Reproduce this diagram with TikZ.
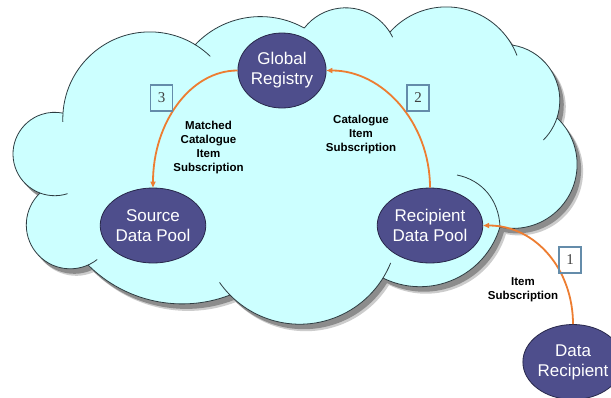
\documentclass[tikz,border=0pt]{standalone}
\usepackage{fontspec}
\setmainfont{Liberation Sans}
\newfontfamily\numfont{Liberation Serif}
\usetikzlibrary{shapes.geometric,arrows.meta}
\definecolor{cloudfill}{RGB}{204,255,255}
\definecolor{cloudline}{RGB}{45,60,65}
\definecolor{nodefill}{RGB}{78,78,140}
\definecolor{nodeline}{RGB}{40,40,75}
\definecolor{arrowc}{RGB}{237,125,49}
\definecolor{boxline}{RGB}{100,140,170}
\newcommand{\mycloud}[1]{\path[#1]
 ([shift={(183.9:87)}]149.8,118.9) arc[start angle=183.9,end angle=301.3,radius=87]
 -- ([shift={(223.1:89.6)}]260.4,106.2) arc[start angle=223.1,end angle=299.1,radius=89.6]
 -- ([shift={(217.7:52.3)}]345.6,60.1) arc[start angle=217.7,end angle=327.7,radius=52.3]
 -- ([shift={(221.9:75.7)}]446.3,82.6) arc[start angle=221.9,end angle=330.2,radius=75.7]
 -- ([shift={(278.4:56)}]503.8,100.4) arc[start angle=278.4,end angle=378.3,radius=56]
 -- ([shift={(313.4:64)}]513.1,164.4) arc[start angle=313.4,end angle=461.8,radius=64]
 -- ([shift={(16.5:83.4)}]420,203.3) arc[start angle=16.5,end angle=116.3,radius=83.4]
 -- ([shift={(31.9:98)}]299.8,226.2) arc[start angle=31.9,end angle=135.4,radius=98]
 -- ([shift={(69:133.3)}]182.2,170.6) arc[start angle=69,end angle=134.9,radius=133.3]
 -- ([shift={(66.1:43.9)}]70.2,224.9) arc[start angle=66.1,end angle=226.6,radius=43.9]
 -- ([shift={(110.7:41.7)}]54.7,154) arc[start angle=110.7,end angle=281.4,radius=41.7]
 -- cycle;}
\begin{document}
\begin{tikzpicture}[x=1pt,y=-1pt,
  pool/.style={ellipse, draw=nodeline, line width=0.8pt, fill=nodefill,
    minimum width=88pt, minimum height=75pt, inner sep=0pt, align=center,
    text=white, font=\fontsize{17}{20}\selectfont},
  numbox/.style={draw=boxline, line width=1.2pt, minimum width=22pt,
    minimum height=26pt, inner sep=0pt, font=\numfont\fontsize{15}{15}\selectfont,
    text=black!75},
  lbl/.style={align=center, font=\bfseries\fontsize{11.5}{13.8}\selectfont},
  flow/.style={draw=arrowc, line width=1.8pt, -{Triangle[length=6pt,width=5pt]}},
  rim/.style={draw=cloudline, line width=0.8pt},
]
\fill[white] (0,0) rectangle (611,397);
\useasboundingbox (0,0) rectangle (611,397);
% cloud shadow and cloud body
\mycloud{fill=black!20, shift={(6,7)}}
\mycloud{fill=black!45, shift={(4,5)}}
\mycloud{fill=cloudfill}
% cloud bump outlines (extended arcs give the inner tails)
\draw[rim] ([shift={(178:87)}]149.8,118.9) arc[start angle=178,end angle=314,radius=87];
\draw[rim] ([shift={(223.1:89.6)}]260.4,106.2) arc[start angle=223.1,end angle=299.1,radius=89.6];
\draw[rim] ([shift={(217.7:52.3)}]345.6,60.1) arc[start angle=217.7,end angle=334,radius=52.3];
\draw[rim] ([shift={(221.9:75.7)}]446.3,82.6) arc[start angle=221.9,end angle=339,radius=75.7];
\draw[rim] ([shift={(278.4:56)}]503.8,100.4) arc[start angle=278.4,end angle=405,radius=56];
\draw[rim] ([shift={(313.4:64)}]513.1,164.4) arc[start angle=313.4,end angle=461.8,radius=64];
\draw[rim] ([shift={(16.5:83.4)}]420,203.3) arc[start angle=16.5,end angle=116.3,radius=83.4];
\draw[rim] ([shift={(22:98)}]299.8,226.2) arc[start angle=22,end angle=145,radius=98];
\draw[rim] ([shift={(69:133.3)}]182.2,170.6) arc[start angle=69,end angle=134.9,radius=133.3];
\draw[rim] ([shift={(52:43.9)}]70.2,224.9) arc[start angle=52,end angle=226.6,radius=43.9];
\draw[rim] ([shift={(72:41.7)}]54.7,154) arc[start angle=72,end angle=281.4,radius=41.7];
\coordinate (tg1) at (500,227);
\coordinate (tg2) at (457,175);
\draw[rim] (tg1) .. controls (499,200) and (482,180) .. (tg2);
% nodes
\node[pool] (gr)  at (282,70.5)  {Global\\Registry};
\node[pool] (sdp) at (153,225.5) {Source\\Data Pool};
\node[pool] (rdp) at (430,225.5) {Recipient\\Data Pool};
\node[pool] (dr)  at (573,362)   {Data\\Recipient};
% connectors
\draw[flow] (dr.north) .. controls +(0,-54) and +(53,0) .. (rdp.east);
\draw[flow] (rdp.north) .. controls +(0,-65) and +(56,0) .. (gr.east);
\draw[flow] (gr.west) .. controls +(-47,0) and +(0,-65) .. (sdp.north);
% step numbers
\node[numbox] (n3) at (161.5,98) {3};
\node[numbox] (n2) at (418,98) {2};
\node[numbox] (n1) at (570,260) {1};
% labels
\node[lbl] (l3) at (208.5,147.5) {Matched\\Catalogue\\Item\\Subscription};
\node[lbl] (l2) at (361,134.5) {Catalogue\\Item\\Subscription};
\node[lbl] (l1) at (523,290) {Item\\Subscription};
\end{tikzpicture}
\end{document}
